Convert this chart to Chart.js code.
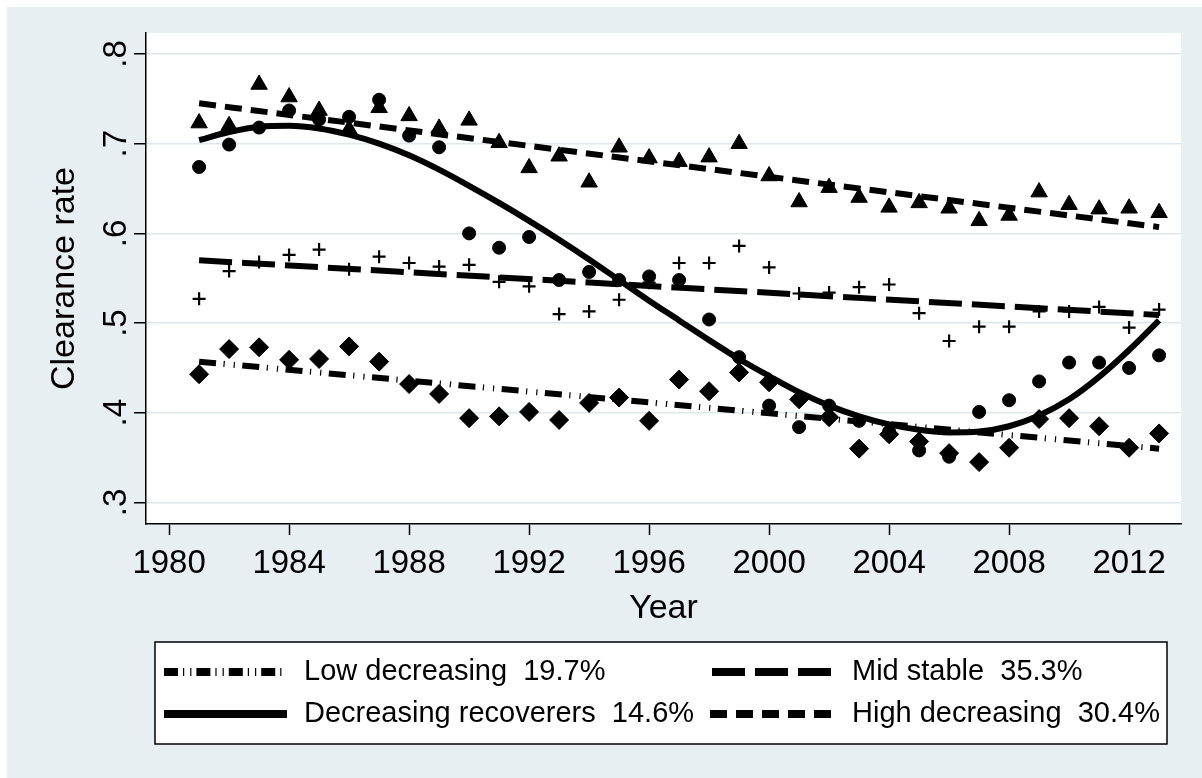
<!DOCTYPE html>
<html>
<head>
<meta charset="utf-8">
<script src="https://cdn.jsdelivr.net/npm/chart.js@4/dist/chart.umd.min.js"></script>
<style>
  html, body { margin: 0; padding: 0; background: #fff; }
  #chart { display: block; }
</style>
</head>
<body>
<canvas id="chart" width="1202" height="778"></canvas>
<script>
// years on the x axis
const years = [1981, 1982, 1983, 1984, 1985, 1986, 1987, 1988, 1989, 1990, 1991,
               1992, 1993, 1994, 1995, 1996, 1997, 1998, 1999, 2000, 2001, 2002,
               2003, 2004, 2005, 2006, 2007, 2008, 2009, 2010, 2011, 2012, 2013];

// observed group means (markers)
const highDecreasing = [0.723, 0.720, 0.766, 0.752, 0.737, 0.716, 0.740, 0.731, 0.717, 0.726, 0.701,
                        0.673, 0.686, 0.657, 0.696, 0.684, 0.680, 0.685, 0.700, 0.664, 0.635, 0.651,
                        0.640, 0.629, 0.634, 0.628, 0.614, 0.620, 0.646, 0.632, 0.627, 0.628, 0.623];
const decreasingRecoverers = [0.674, 0.699, 0.718, 0.737, 0.727, 0.730, 0.749, 0.709, 0.696, 0.600, 0.584,
                              0.596, 0.548, 0.557, 0.548, 0.552, 0.548, 0.504, 0.462, 0.408, 0.384, 0.408,
                              0.391, 0.379, 0.358, 0.351, 0.401, 0.414, 0.435, 0.456, 0.456, 0.450, 0.464];
const midStable = [0.527, 0.558, 0.568, 0.576, 0.582, 0.560, 0.574, 0.567, 0.563, 0.565, 0.546,
                   0.541, 0.510, 0.513, 0.526, 0.545, 0.567, 0.567, 0.586, 0.562, 0.533, 0.534,
                   0.540, 0.543, 0.511, 0.480, 0.496, 0.496, 0.513, 0.513, 0.518, 0.495, 0.515];
const lowDecreasing = [0.443, 0.471, 0.473, 0.459, 0.460, 0.474, 0.457, 0.432, 0.421, 0.394, 0.396,
                       0.401, 0.392, 0.411, 0.417, 0.391, 0.437, 0.424, 0.445, 0.434, 0.415, 0.395,
                       0.360, 0.376, 0.368, 0.355, 0.345, 0.361, 0.393, 0.394, 0.385, 0.361, 0.377];

// fitted trajectories
const recoverersFit = [0.704, 0.713, 0.719, 0.720, 0.717, 0.710, 0.700, 0.687, 0.671, 0.653, 0.634,
                       0.614, 0.593, 0.571, 0.548, 0.525, 0.503, 0.481, 0.460, 0.441, 0.423, 0.408,
                       0.396, 0.387, 0.381, 0.378, 0.379, 0.385, 0.397, 0.415, 0.440, 0.470, 0.503];
const fitYears = [1981, 2013];
const highFit = [0.745, 0.607];
const midFit = [0.570, 0.509];
const lowFit = [0.457, 0.360];

const xTicks = [1980, 1984, 1988, 1992, 1996, 2000, 2004, 2008, 2012];
const yTicks = [0.3, 0.4, 0.5, 0.6, 0.7, 0.8];
const yTickLabels = ['.3', '.4', '.5', '.6', '.7', '.8'];

const FONT = '"Liberation Sans", Arial, sans-serif';
const pts = (xs, ys) => xs.map((x, i) => ({ x: x, y: ys[i] }));

function marker(label, values, style, r) {
  return {
    label: label, data: pts(years, values), showLine: false,
    pointStyle: style, pointRadius: r, pointHoverRadius: r,
    backgroundColor: '#000', borderColor: '#000',
    pointBorderWidth: style === 'cross' ? 2.2 : 1
  };
}

function fit(label, xs, values, dash, legendDash) {
  return {
    label: label, data: pts(xs, values), showLine: true, fill: false,
    borderColor: '#000', borderWidth: 6, borderDash: dash, borderCapStyle: 'butt',
    pointRadius: 0, pointHoverRadius: 0, cubicInterpolationMode: 'monotone',
    legendDash: legendDash, isFit: true
  };
}

const lowDash = [17, 7.5, 1.2, 9, 1.2, 7.5];
const midDash = [33, 10];
const highDash = [17, 9];

// draws the stata-like background, rotated y labels and the boxed legend
const decor = {
  id: 'decor',
  beforeDraw(chart) {
    const { ctx, chartArea: a, width, height } = chart;
    ctx.save();
    ctx.fillStyle = '#fff';
    ctx.fillRect(0, 0, width, height);
    ctx.fillStyle = '#e8eff2';
    ctx.fillRect(7, 7, width - 7, height - 7);
    ctx.fillStyle = '#fff';
    ctx.fillRect(a.left, a.top, a.right - a.left, a.bottom - a.top);
    ctx.restore();
  },
  afterDraw(chart) {
    const ctx = chart.ctx;
    const ys = chart.scales.y;
    ctx.save();
    ctx.fillStyle = '#000';
    ctx.font = '33px ' + FONT;
    ctx.textAlign = 'center';
    ctx.textBaseline = 'middle';
    yTicks.forEach((v, i) => {
      ctx.save();
      ctx.translate(117, ys.getPixelForValue(v));
      ctx.rotate(-Math.PI / 2);
      ctx.fillText(yTickLabels[i], 0, 0);
      ctx.restore();
    });

    // legend box
    const box = { x: 155, y: 642, w: 1012, h: 102 };
    ctx.fillStyle = '#fff';
    ctx.fillRect(box.x, box.y, box.w, box.h);
    ctx.strokeStyle = '#000';
    ctx.lineWidth = 1.5;
    ctx.strokeRect(box.x, box.y, box.w, box.h);

    const fits = chart.data.datasets.filter(d => d.isFit);
    const slots = [
      { x0: 164, x1: 287, tx: 304, y: 672 },
      { x0: 712, x1: 831, tx: 852, y: 672 },
      { x0: 164, x1: 287, tx: 304, y: 714 },
      { x0: 710, x1: 831, tx: 852, y: 714 }
    ];
    ctx.font = '29px ' + FONT;
    ctx.textAlign = 'left';
    fits.forEach((d, i) => {
      const s = slots[i];
      ctx.save();
      ctx.strokeStyle = '#000';
      ctx.lineWidth = 8;
      ctx.lineCap = 'butt';
      ctx.setLineDash(d.legendDash);
      ctx.beginPath();
      ctx.moveTo(s.x0, s.y);
      ctx.lineTo(s.x1, s.y);
      ctx.stroke();
      ctx.restore();
      ctx.fillStyle = '#000';
      ctx.fillText(d.label, s.tx, s.y);
    });
    ctx.restore();
  }
};

new Chart(document.getElementById('chart'), {
  type: 'scatter',
  data: {
    datasets: [
      fit('Low decreasing  19.7%', fitYears, lowFit, lowDash, [14, 5, 1.2, 6, 1.2, 5]),
      fit('Mid stable  35.3%', fitYears, midFit, midDash, [33, 10]),
      fit('Decreasing recoverers  14.6%', years, recoverersFit, [], []),
      fit('High decreasing  30.4%', fitYears, highFit, highDash, [17, 9]),
      marker('High decreasing', highDecreasing, 'triangle', 9.5),
      marker('Decreasing recoverers', decreasingRecoverers, 'circle', 6.5),
      marker('Mid stable', midStable, 'cross', 6.5),
      marker('Low decreasing', lowDecreasing, 'rectRot', 9.5)
    ]
  },
  options: {
    responsive: false,
    animation: false,
    devicePixelRatio: 1,
    layout: { padding: { left: 0, top: 33, right: 21, bottom: 149 } },
    plugins: { legend: { display: false }, tooltip: { enabled: false } },
    scales: {
      x: {
        type: 'linear', min: 1979.23, max: 2013.73,
        afterBuildTicks: s => { s.ticks = xTicks.map(v => ({ value: v })); },
        afterFit: s => { s.height = 105; },
        ticks: { callback: v => String(v), color: '#000', font: { family: FONT, size: 33 },
                 padding: 9, maxRotation: 0, autoSkip: false },
        grid: { drawOnChartArea: false, drawTicks: true, tickLength: 11, tickColor: '#000', tickWidth: 1.5 },
        border: { display: true, color: '#000', width: 1.5 },
        title: { display: true, text: 'Year', color: '#000', font: { family: FONT, size: 34 }, padding: 0 }
      },
      y: {
        type: 'linear', min: 0.276, max: 0.8234,
        afterBuildTicks: s => { s.ticks = yTicks.map(v => ({ value: v })); },
        afterFit: s => { s.width = 146; },
        ticks: { color: 'rgba(0,0,0,0)', font: { size: 1 } },
        grid: { color: '#dde7ec', lineWidth: 1.5, tickColor: '#000', tickLength: 12, tickWidth: 1.5 },
        border: { display: true, color: '#000', width: 1.5 },
        title: { display: true, text: 'Clearance rate', color: '#000', font: { family: FONT, size: 34 },
                 padding: { top: 44, bottom: 0 } }
      }
    }
  },
  plugins: [decor]
});
</script>
</body>
</html>
